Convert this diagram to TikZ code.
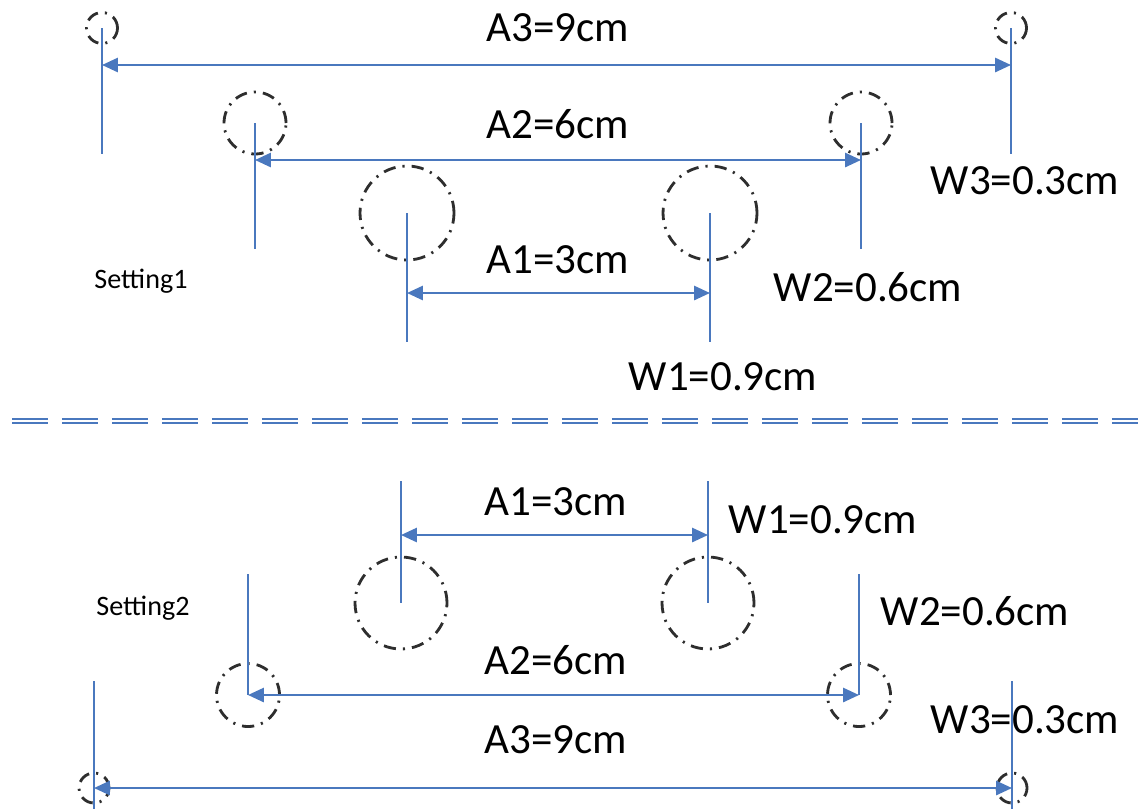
\documentclass[tikz,border=0pt]{standalone}
\usepackage{fontspec}
\setmainfont{Carlito}
\usetikzlibrary{arrows.meta}
\definecolor{Dim}{HTML}{4A78BE}
\definecolor{Hole}{HTML}{2E2E2E}

\tikzset{
  dim/.style={Dim,line width=1.3pt},
  dimarrow/.style={dim,{Triangle[length=9pt,width=8pt]}-{Triangle[length=9pt,width=8pt]}},
  hole/.style={circle,draw=Hole,line width=1.6pt,dash pattern=on 7pt off 4pt on 1.2pt off 4pt,inner sep=0pt},
  lbl/.style={font=\fontsize{24.5}{28}\selectfont,inner sep=0pt},
  tag/.style={font=\fontsize{16}{18}\selectfont,inner sep=0pt},
  sep/.style={Dim,line width=0.95pt,double=white,double distance=1.2pt,dash pattern=on 0.72cm off 0.28cm}
}

\begin{document}
\begin{tikzpicture}[x=0.02cm,y=-0.02cm]
\useasboundingbox (0,0) rectangle (1138,809);
% Setting1: holes above, lines hanging down
\foreach \n/\xl/\xr/\yc/\d/\ye/\ya in {3/102/1011/28/0.62/154/65,2/255/861/123/1.24/249/160,1/407/710/213/1.88/342/293} {
  \node[hole,minimum size=\d cm] (tL\n) at (\xl,\yc) {};
  \node[hole,minimum size=\d cm] (tR\n) at (\xr,\yc) {};
  \coordinate (tL\n end) at (\xl,\ye);
  \coordinate (tR\n end) at (\xr,\ye);
  \coordinate (tL\n arr) at (\xl,\ya);
  \coordinate (tR\n arr) at (\xr,\ya);
  \draw[dim] (tL\n.center) -- (tL\n end);
  \draw[dim] (tR\n.center) -- (tR\n end);
  \draw[dimarrow] (tL\n arr) -- (tR\n arr);
}
\node[lbl] (tA3) at (558,28) {A3=9cm};
\node[lbl] (tA2) at (558,124) {A2=6cm};
\node[lbl] (tA1) at (558,260) {A1=3cm};
\node[lbl] (tW3) at (1025,181) {W3=0.3cm};
\node[lbl] (tW2) at (868,287) {W2=0.6cm};
\node[lbl] (tW1) at (723,377) {W1=0.9cm};
\node[tag] (set1) at (141,281) {Setting1};
% separator
\coordinate (sepL) at (12,421);
\coordinate (sepR) at (1138,421);
\draw[sep] (sepL) -- (sepR);
% Setting2: holes below, lines rising up
\foreach \n/\xl/\xr/\yc/\d/\ys in {1/401/708/603/1.84/481,2/248/859/695/1.26/574,3/94/1012/788/0.6/681} {
  \node[hole,minimum size=\d cm] (bL\n) at (\xl,\yc) {};
  \node[hole,minimum size=\d cm] (bR\n) at (\xr,\yc) {};
  \coordinate (bL\n top) at (\xl,\ys);
  \coordinate (bR\n top) at (\xr,\ys);
  \draw[dim] (bL\n top) -- (bL\n.center);
  \draw[dim] (bR\n top) -- (bR\n.center);
}
\coordinate (bL1arr) at (401,535);
\coordinate (bR1arr) at (708,535);
\coordinate (bL3end) at (94,809);
\coordinate (bR3end) at (1012,809);
\draw[dim] (bL3.center) -- (bL3end);
\draw[dim] (bR3.center) -- (bR3end);
\draw[dimarrow] (bL1arr) -- (bR1arr);
\draw[dimarrow] (bL2.center) -- (bR2.center);
\draw[dimarrow] (bL3.center) -- (bR3.center);
\node[lbl] (bA1) at (556,502) {A1=3cm};
\node[lbl] (bA2) at (556,660) {A2=6cm};
\node[lbl] (bA3) at (556,740) {A3=9cm};
\node[lbl] (bW1) at (823,520) {W1=0.9cm};
\node[lbl] (bW2) at (975,611) {W2=0.6cm};
\node[lbl] (bW3) at (1025,720) {W3=0.3cm};
\node[tag] (set2) at (143,608) {Setting2};
\end{tikzpicture}
\end{document}
